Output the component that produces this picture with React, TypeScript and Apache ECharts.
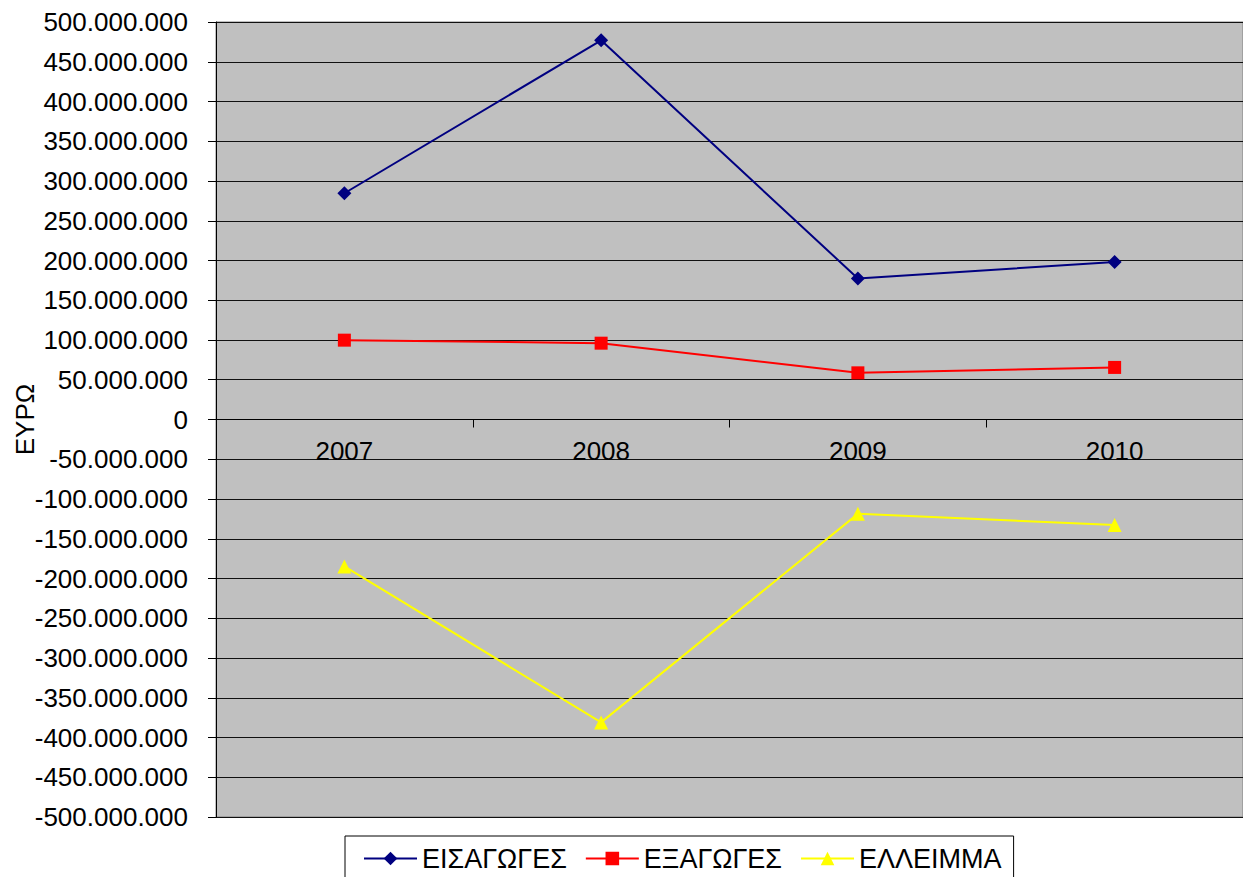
import React, { useEffect, useRef } from "react";
import * as echarts from "echarts";

const years = ["2007", "2008", "2009", "2010"];
const imports = [284600000, 477000000, 177400000, 198200000];
const exports = [99800000, 96000000, 58700000, 65500000];
const deficit = [-184800000, -381000000, -118700000, -132700000];
const seriesNames = ["ΕΙΣΑΓΩΓΕΣ", "ΕΞΑΓΩΓΕΣ", "ΕΛΛΕΙΜΜΑ"];
const yTitle = "ΕΥΡΩ";

const FONT = "'Liberation Sans', Arial, sans-serif";

function fmt(v: number): string {
  const neg = v < 0;
  const s = Math.abs(Math.round(v)).toString();
  const parts: string[] = [];
  for (let i = s.length; i > 0; i -= 3) parts.unshift(s.substring(Math.max(0, i - 3), i));
  return (neg ? "-" : "") + parts.join(".");
}

export default function App() {
  const ref = useRef<HTMLDivElement>(null);
  useEffect(() => {
    document.body.style.margin = "0";
    const chart = echarts.init(ref.current!, null, { renderer: "svg" });
    chart.setOption({
      animation: false,
      backgroundColor: "#ffffff",
      textStyle: { fontFamily: FONT },
      grid: {
        left: 216,
        top: 22,
        right: 0,
        bottom: 60,
        containLabel: false,
        outerBoundsMode: "none",
        show: true,
        backgroundColor: "#c0c0c0",
        borderColor: "#808080",
        borderWidth: 1,
      },
      legend: {
        left: 345,
        top: 836,
        padding: [9, 12, 24, 18],
        borderColor: "#000",
        borderWidth: 1,
        itemWidth: 53,
        itemHeight: 17,
        itemGap: 18,
        textStyle: { fontSize: 27, color: "#000", fontFamily: FONT },
        data: seriesNames,
      },
      xAxis: {
        type: "category",
        data: years,
        boundaryGap: true,
        offset: -397.5,
        axisLine: { onZero: false, lineStyle: { color: "#000", width: 1 } },
        axisTick: { show: true, inside: false, length: 8, lineStyle: { color: "#000" } },
        axisLabel: { fontSize: 26, color: "#000", margin: 18, fontFamily: FONT },
        splitLine: { show: false },
      },
      yAxis: {
        type: "value",
        min: -500000000,
        max: 500000000,
        interval: 50000000,
        name: yTitle,
        nameLocation: "middle",
        nameGap: 178,
        nameRotate: 90,
        nameMoveOverlap: false,
        nameTextStyle: { fontSize: 26, color: "#000", fontFamily: FONT },
        axisLine: { show: true, lineStyle: { color: "#000", width: 1 } },
        axisTick: { show: true, inside: false, length: 8, lineStyle: { color: "#000" } },
        axisLabel: {
          fontSize: 26,
          color: "#000",
          margin: 28,
          fontFamily: FONT,
          formatter: (v: number) => fmt(v),
        },
        splitLine: { show: true, lineStyle: { color: "#111", width: 1 } },
      },
      series: [
        {
          name: seriesNames[0],
          type: "line",
          data: imports,
          symbol: "diamond",
          symbolSize: 14,
          lineStyle: { color: "#000080", width: 2 },
          itemStyle: { color: "#000080" },
        },
        {
          name: seriesNames[1],
          type: "line",
          data: exports,
          symbol: "rect",
          symbolSize: 13,
          lineStyle: { color: "#ff0000", width: 2 },
          itemStyle: { color: "#ff0000" },
        },
        {
          name: seriesNames[2],
          type: "line",
          data: deficit,
          symbol: "triangle",
          symbolSize: 14,
          lineStyle: { color: "#ffff00", width: 2 },
          itemStyle: { color: "#ffff00" },
        },
      ],
    });
    return () => chart.dispose();
  }, []);
  return <div ref={ref} style={{ width: 1243, height: 877 }} />;
}
